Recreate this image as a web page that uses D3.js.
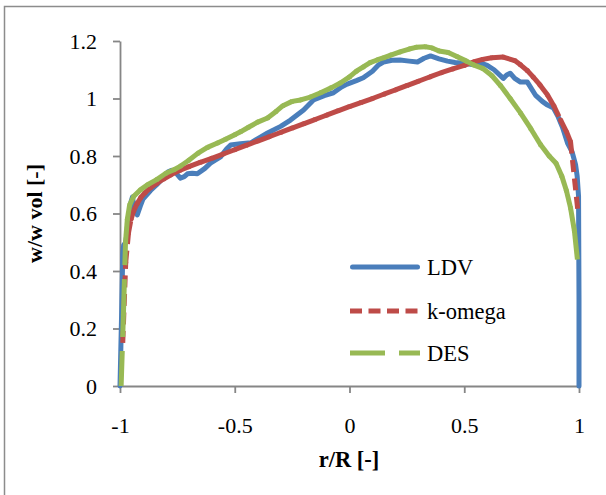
<!DOCTYPE html>
<html><head><meta charset="utf-8">
<script src="https://cdn.jsdelivr.net/npm/d3@7"></script>
<style>body{margin:0;background:#fff}svg{display:block}</style>
</head><body><svg id="c" width="606" height="495"></svg>
<script>
// ---- data ----
const seriesNames = ["LDV", "k-omega", "DES"];
const xTicks = [-1, -0.5, 0, 0.5, 1];
const yTicks = [0, 0.2, 0.4, 0.6, 0.8, 1, 1.2];

const ldvX = [-1.0,-0.993,-0.988,-0.984,-0.975,-0.965,-0.952,-0.946,-0.937,-0.925,-0.912,-0.9,-0.867,-0.84,-0.81,-0.79,-0.775,-0.755,-0.737,-0.72,-0.706,-0.685,-0.663,-0.63,-0.606,-0.562,-0.535,-0.518,-0.475,-0.43,-0.39,-0.357,-0.3,-0.257,-0.2,-0.157,-0.11,-0.07,-0.035,-0.01,0.03,0.06,0.1,0.127,0.148,0.185,0.22,0.26,0.296,0.325,0.353,0.39,0.427,0.46,0.497,0.54,0.575,0.6,0.63,0.67,0.685,0.70,0.72,0.745,0.775,0.81,0.84,0.863,0.889,0.91,0.928,0.95,0.97,0.985,0.992,0.998,1.0,1.0];
const ldvY = [0.0,0.25,0.46,0.49,0.50,0.56,0.64,0.657,0.62,0.595,0.625,0.65,0.68,0.70,0.725,0.745,0.75,0.74,0.723,0.728,0.738,0.74,0.738,0.757,0.775,0.797,0.825,0.838,0.843,0.846,0.865,0.88,0.903,0.925,0.96,0.995,1.01,1.02,1.04,1.05,1.062,1.072,1.095,1.117,1.127,1.133,1.134,1.13,1.127,1.14,1.148,1.138,1.13,1.125,1.123,1.117,1.122,1.115,1.1,1.07,1.082,1.088,1.07,1.057,1.057,1.012,0.99,0.977,0.967,0.935,0.9,0.845,0.814,0.77,0.73,0.66,0.3,0.0];

const komX = [-0.988,-0.975,-0.963,-0.952,-0.94,-0.925,-0.91,-0.89,-0.867,-0.84,-0.81,-0.78,-0.74,-0.70,-0.65,-0.60,-0.55,-0.5,-0.45,-0.4,-0.35,-0.3,-0.25,-0.2,-0.15,-0.1,-0.05,0,0.05,0.1,0.15,0.2,0.25,0.3,0.35,0.4,0.45,0.5,0.54,0.58,0.62,0.67,0.72,0.745,0.775,0.8,0.83,0.863,0.89,0.92,0.945,0.963,0.995];
const komY = [0.15,0.43,0.532,0.58,0.61,0.635,0.655,0.673,0.69,0.705,0.72,0.734,0.75,0.763,0.778,0.792,0.807,0.822,0.837,0.852,0.867,0.882,0.897,0.912,0.927,0.942,0.957,0.972,0.986,1.0,1.015,1.03,1.045,1.06,1.075,1.09,1.103,1.115,1.127,1.136,1.142,1.144,1.132,1.117,1.097,1.075,1.047,1.012,0.975,0.925,0.885,0.85,0.61];

const desX = [-0.995,-0.985,-0.976,-0.968,-0.958,-0.94,-0.91,-0.88,-0.84,-0.8,-0.765,-0.736,-0.7,-0.66,-0.619,-0.575,-0.54,-0.5,-0.475,-0.44,-0.40,-0.357,-0.32,-0.29,-0.25,-0.213,-0.17,-0.126,-0.08,-0.04,0.0,0.03,0.06,0.09,0.12,0.15,0.18,0.22,0.26,0.29,0.33,0.36,0.39,0.43,0.47,0.51,0.54,0.58,0.62,0.658,0.70,0.745,0.79,0.832,0.87,0.9,0.925,0.945,0.963,0.98,0.993];
const desY = [0.0,0.25,0.5,0.58,0.63,0.66,0.683,0.70,0.718,0.74,0.752,0.765,0.785,0.81,0.83,0.845,0.858,0.874,0.884,0.9,0.918,0.932,0.955,0.975,0.99,0.995,1.005,1.02,1.037,1.054,1.075,1.095,1.11,1.125,1.134,1.142,1.151,1.162,1.172,1.178,1.18,1.176,1.165,1.16,1.145,1.13,1.117,1.105,1.08,1.045,1.0,0.95,0.895,0.84,0.80,0.775,0.73,0.68,0.62,0.54,0.44];

// ---- chart ----
const colors = ["#4a7ebb", "#be4b48", "#98b954"];
const FONT = "'Liberation Serif','Times New Roman',serif";
const svg = d3.select("#c");
const x = d3.scaleLinear().domain([-1, 1]).range([120, 579]);
const y = d3.scaleLinear().domain([0, 1.2]).range([386, 41]);

svg.append("rect").attr("x", 4.5).attr("y", 6.5).attr("width", 640).attr("height", 540)
  .attr("fill", "none").attr("stroke", "#8c8c8c").attr("stroke-width", 1.5);

const axisColor = "#868686";
const gy = svg.append("g").attr("transform", "translate(120,0)")
  .call(d3.axisLeft(y).tickValues(yTicks).tickSize(7).tickSizeOuter(0).tickPadding(16).tickFormat(d => String(d)));
const gx = svg.append("g").attr("transform", "translate(0,386)")
  .call(d3.axisBottom(x).tickValues(xTicks).tickSize(7).tickSizeOuter(0).tickFormat(d => String(d)));
[gy, gx].forEach(g => {
  g.selectAll("path.domain").attr("stroke", axisColor).attr("stroke-width", 1.8);
  g.selectAll(".tick line").attr("stroke", axisColor).attr("stroke-width", 1.8);
  g.selectAll("text").attr("fill", "#000").style("font-family", FONT).style("font-size", "22px");
});
gx.selectAll("text").attr("y", 47).attr("dy", null);

// series
const W = 5;
function drawSeries(xs, ys, color, dash) {
  const pts = xs.map((v, i) => [x(v), y(ys[i])]);
  const g = svg.append("g");
  if (!dash) {
    g.append("path").attr("d", d3.line()(pts)).attr("fill", "none").attr("stroke", color)
      .attr("stroke-width", W).attr("stroke-linejoin", "round").attr("stroke-linecap", "round");
  } else {
    // dash pattern restarts at every segment, as in the original
    g.selectAll("line").data(d3.pairs(pts)).join("line")
      .attr("x1", d => d[0][0]).attr("y1", d => d[0][1])
      .attr("x2", d => d[1][0]).attr("y2", d => d[1][1])
      .attr("stroke", color).attr("stroke-width", W).attr("stroke-linecap", "butt")
      .attr("stroke-dasharray", dash);
    g.selectAll("circle").data(pts.slice(1, -1)).join("circle")
      .attr("cx", d => d[0]).attr("cy", d => d[1]).attr("r", W / 2).attr("fill", color);
  }
}
const dashes = [null, "12 6.5", "35 14"];
drawSeries(ldvX, ldvY, colors[0], dashes[0]);
drawSeries(komX, komY, colors[1], dashes[1]);
drawSeries(desX, desY, colors[2], dashes[2]);

// legend
const legY = [267, 311, 353];
seriesNames.forEach((n, i) => {
  svg.append("line").attr("x1", i === 0 ? 352.5 : 350).attr("x2", i === 0 ? 417.5 : 420)
    .attr("y1", legY[i]).attr("y2", legY[i])
    .attr("stroke", colors[i]).attr("stroke-width", W).attr("stroke-linecap", i === 0 ? "round" : "butt")
    .attr("stroke-dasharray", dashes[i]);
  svg.append("text").attr("x", 427).attr("y", legY[i] + 8).text(n)
    .style("font-family", FONT).style("font-size", "22.5px").attr("fill", "#000");
});

// titles
svg.append("text").attr("x", 349).attr("y", 467).attr("text-anchor", "middle").text("r/R [-]")
  .style("font-family", FONT).style("font-size", "22.5px").style("font-weight", "bold");
svg.append("text").attr("transform", "translate(42,213.5) rotate(-90)").attr("text-anchor", "middle").text("w/w vol [-]")
  .style("font-family", FONT).style("font-size", "22px").style("font-weight", "bold");
</script></body></html>
